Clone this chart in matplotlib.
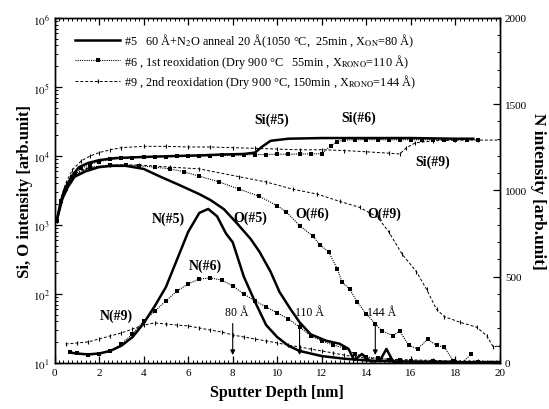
import matplotlib
matplotlib.use('Agg')
import matplotlib.pyplot as plt
from matplotlib.lines import Line2D
from matplotlib.ticker import MultipleLocator, LogLocator, NullFormatter, FixedLocator

plt.rcParams['font.family'] = ['Liberation Serif', 'DejaVu Sans']
plt.rcParams['mathtext.fontset'] = 'stix'

# ---- data ----
# Si profiles (left, log axis)
si5_x = [0.1, 0.25, 0.45, 0.8, 1.1, 1.5, 2.0, 2.7, 3.5, 4.5, 5.5, 6.5, 7.5, 8.5, 9.0, 9.3, 9.7, 10.5, 12, 14, 16, 18, 18.8]
si5_y = [1150, 2000, 3300, 5250, 6900, 7900, 8700, 9300, 9550, 9800, 10000, 10200, 10500, 10700, 11200, 13500, 16600, 17800, 18200, 18200, 18200, 17800, 17800]

si6_x = [0.1, 0.3, 0.5, 0.8, 1.2, 1.6, 2.0, 2.5, 3.0, 3.5, 4.0, 4.5, 5.0, 5.5, 6.0, 6.5, 7.0, 7.5, 8.0, 8.5, 9.0, 9.5,
         10.0, 10.5, 11.0, 11.5, 12.0, 12.4, 12.7, 13.0, 13.5, 14.0, 14.5, 15.0, 15.5, 16.0, 16.5, 17.0, 17.5, 18.0, 18.5, 19.0]
si6_y = [1150, 2240, 3310, 5000, 6600, 7600, 8300, 8900, 9300, 9500, 9600, 9700, 9800, 9900, 10000, 10000, 10100, 10200,
         10300, 10400, 10500, 10500, 10600, 10600, 10700, 10700, 10800, 14100, 16200, 17000, 17200, 17200, 17200, 17200,
         17200, 17200, 17200, 17200, 17200, 17200, 17200, 17200]

si9_x = [0.1, 0.3, 0.5, 0.8, 1.2, 1.6, 2.0, 2.5, 3, 4, 5, 6, 7, 8, 9, 10, 11, 12, 13, 14, 15, 15.5, 15.8, 16.2, 17, 18, 19, 20]
si9_y = [1150, 2500, 4000, 6300, 8500, 10000, 11200, 12300, 13200, 13800, 13800, 13500, 13500, 13200, 12900, 12600,
         12300, 12300, 12000, 11500, 11000, 10700, 13200, 15500, 16600, 17000, 17000, 17000]

# O profiles (left, log axis)
o5_x = [0.1, 0.35, 0.6, 0.9, 1.4, 2.0, 2.6, 3.2, 4.0, 4.7, 5.6, 6.5, 7.0, 7.6, 8.2, 8.8, 9.2, 9.7, 10.1, 10.6, 11.0,
        11.5, 12.2, 12.8, 13.2, 13.45, 13.8, 14.2, 14.6, 14.9, 15.2, 15.6]
o5_y = [1150, 2400, 3550, 5000, 6000, 6900, 7200, 7200, 6500, 5100, 3800, 2800, 2300, 1700, 1050, 630, 410, 210, 107,
        60, 39, 26, 21, 19, 16, 11, 13.5, 10.5, 10.7, 16, 10.5, 10]

o6_x = [0.1, 0.5, 0.9, 1.6, 2.5, 3.2, 3.8, 4.5, 5.2, 5.8, 6.5, 7.4, 8.3, 9.2, 10.0, 10.4, 11.0, 11.6, 11.9, 12.3, 12.7,
        12.9, 13.25, 13.6, 14.0, 14.4, 14.7, 15.2, 15.5, 15.9, 16.3, 16.75, 17.15, 17.5, 17.9, 18.3, 18.7]
o6_y = [1150, 3300, 5500, 6900, 7400, 7400, 7200, 6900, 6500, 5900, 5100, 4200, 3300, 2600, 1900, 1550, 980, 690, 520,
        410, 230, 150, 117, 76, 51, 37, 29, 25, 29, 18, 16, 22, 18, 17, 10.7, 10, 13.5]

o9_x = [0.1, 0.35, 0.7, 1.4, 2.5, 3.8, 5.2, 6.5, 8.3, 9.5, 10.7, 11.8, 12.8, 13.7, 14.5, 15.0, 15.6, 16.25, 16.7,
        17.15, 17.5, 18.2, 18.95, 19.4, 19.7, 20.0]
o9_y = [1150, 2400, 4700, 6500, 7400, 7400, 6900, 6500, 5000, 4200, 3300, 2800, 2200, 1800, 1300, 800, 380, 210, 117,
        60, 47, 39, 33, 25, 17, 18]

# N profiles (right, linear axis)
n5_x = [0.7, 1.0, 1.5, 2.0, 2.5, 3.0, 3.5, 4.0, 4.5, 5.0, 5.5, 6.0, 6.5, 6.9, 7.3, 7.7, 8.0, 8.5, 9.0, 9.5, 10.0,
        10.5, 11.0, 12.0, 13.0, 14.0, 15.0, 16.0, 18.0, 20.0]
n5_y = [60, 55, 50, 55, 70, 100, 150, 230, 330, 440, 600, 760, 870, 893, 850, 750, 700, 500, 355, 220, 150, 100, 70,
        40, 25, 15, 10, 8, 5, 5]

n6_x = [0.7, 1.0, 1.5, 2.0, 2.5, 3.0, 3.5, 4.0, 4.5, 5.0, 5.5, 6.0, 6.5, 7.0, 7.5, 8.0, 8.5, 9.0, 9.5, 10.0, 10.5,
        11.0, 11.5, 12.0, 12.5, 13.0, 13.5, 14.0, 14.5, 15.0, 15.5, 16.0, 17.0, 18.0, 19.0]
n6_y = [64, 58, 46, 52, 70, 110, 168, 244, 300, 360, 418, 458, 487, 493, 481, 447, 400, 360, 325, 290, 255, 209, 157,
        128, 104, 87, 52, 35, 29, 20, 15, 12, 10, 8, 8]

n9_x = [0.5, 1.0, 1.5, 2.0, 2.5, 3.0, 3.5, 4.0, 4.5, 5.0, 5.5, 6.0, 6.5, 7.0, 7.5, 8.0, 8.5, 9.0, 9.5, 10.0, 10.5,
        11.0, 11.5, 12.0, 12.5, 13.0, 13.5, 14.0, 15.0, 16.0, 17.0, 18.0, 19.0, 20.0]
n9_y = [110, 116, 122, 139, 157, 174, 197, 220, 232, 226, 220, 215, 203, 191, 180, 162, 151, 139, 128, 116, 104, 93,
        81, 70, 58, 46, 35, 28, 22, 18, 15, 12, 10, 10]

# oxide thickness markers (nm) and their labels
mark_x = [8.0, 11.0, 14.4]
mark_lbl = ['80 Å', '110 Å', '144 Å']

legend_lbl = [
    '#5   60 Å+N$_2$O anneal 20 Å(1050 °C,  25min , X$_{\\mathrm{ON}}$=80 Å)',
    '#6 , 1st reoxidation (Dry 900 °C   55min , X$_{\\mathrm{RONO}}$=110 Å)',
    '#9 , 2nd reoxidation (Dry 900 °C, 150min , X$_{\\mathrm{RONO}}$=144 Å)',
]

# ---- styles ----
st5 = dict(color='black', lw=1.8, ls='-')
st6 = dict(color='black', lw=0.8, ls=(0, (1, 1)), marker='s', ms=2.6, mew=0)
st9 = dict(color='black', lw=0.7, ls=(0, (3, 2)), marker='|', ms=3.5, mew=0.8)

fig = plt.figure(figsize=(5.49, 4.10), dpi=100)
ax = fig.add_axes([0.0993, 0.1122, 0.8115, 0.8415])
ax2 = ax.twinx()

ax.plot(si5_x, si5_y, **st5)
ax.plot(si6_x, si6_y, **st6)
ax.plot(si9_x, si9_y, **st9)
ax.plot(o5_x, o5_y, **st5)
ax.plot(o6_x, o6_y, **st6)
ax.plot(o9_x, o9_y, **st9)

ax2.plot(n5_x, n5_y, **st5)
ax2.plot(n6_x, n6_y, **st6)
ax2.plot(n9_x, n9_y, **st9)

ax.set_yscale('log')
ax.set_xlim(0, 20)
ax.set_ylim(10, 1e6)
ax2.set_ylim(0, 2000)

# ticks
ax.xaxis.set_major_locator(MultipleLocator(2))
ax.xaxis.set_minor_locator(MultipleLocator(0.2))
ax.yaxis.set_major_locator(FixedLocator([1e1, 1e2, 1e3, 1e4, 1e5, 1e6]))
ax.set_yticklabels(['$10^{1}$', '$10^{2}$', '$10^{3}$', '$10^{4}$', '$10^{5}$', '$10^{6}$'])
ax.yaxis.set_minor_locator(LogLocator(base=10, subs=range(2, 10)))
ax.yaxis.set_minor_formatter(NullFormatter())
ax.tick_params(which='both', direction='in', top=True, right=False, labelsize=8)
ax.tick_params(which='major', length=5, width=0.9)
ax.tick_params(which='minor', length=2.5, width=0.7)

ax2.yaxis.set_major_locator(MultipleLocator(500))
ax2.yaxis.set_minor_locator(MultipleLocator(100))
ax2.tick_params(which='both', direction='in', labelsize=8)
ax2.tick_params(which='major', length=5, width=0.9)
ax2.tick_params(which='minor', length=2.5, width=0.7)

for a in (ax, ax2):
    for s in a.spines.values():
        s.set_linewidth(1.0)

ax.set_xlabel('Sputter Depth [nm]', fontsize=11.5, fontweight='bold', labelpad=5)
ax.set_ylabel('Si, O intensity [arb.unit]', fontsize=12, fontweight='bold', labelpad=0)
ax2.set_ylabel('N intensity [arb.unit]', fontsize=12.5, fontweight='bold', rotation=-90, labelpad=14)

# curve labels
lab = dict(fontsize=10, fontweight='bold', ha='center', va='center')
ax2.text(9.75, 1415, 'Si(#5)', **lab)
ax2.text(13.66, 1427, 'Si(#6)', **lab)
ax2.text(16.97, 1172, 'Si(#9)', **lab)
ax2.text(8.8, 847, 'O(#5)', **lab)
ax2.text(11.59, 870, 'O(#6)', **lab)
ax2.text(14.82, 870, 'O(#9)', **lab)
ax2.text(5.09, 841, 'N(#5)', **lab)
ax2.text(6.75, 568, 'N(#6)', **lab)
ax2.text(2.76, 278, 'N(#9)', **lab)

lbl_dx = [0.2, 0.45, 0.3]
for xm, t, dx in zip(mark_x, mark_lbl, lbl_dx):
    ax2.annotate('', xy=(xm, 30), xytext=(xm, 245),
                 arrowprops=dict(arrowstyle='-|>', color='black', lw=0.8, mutation_scale=7))
    ax2.text(xm + dx, 295, t, fontsize=8.5, ha='center', va='center', zorder=5)

handles = [Line2D([], [], **st5), Line2D([], [], **st6), Line2D([], [], **st9)]
ax.legend(handles, legend_lbl, loc='upper left', bbox_to_anchor=(0.046, 0.96), frameon=False,
          fontsize=8.8, handlelength=3.7, handletextpad=0.3, borderpad=0, borderaxespad=0,
          labelspacing=0.2, markerscale=1.0)

fig.savefig('out.png', dpi=100, facecolor='white')
